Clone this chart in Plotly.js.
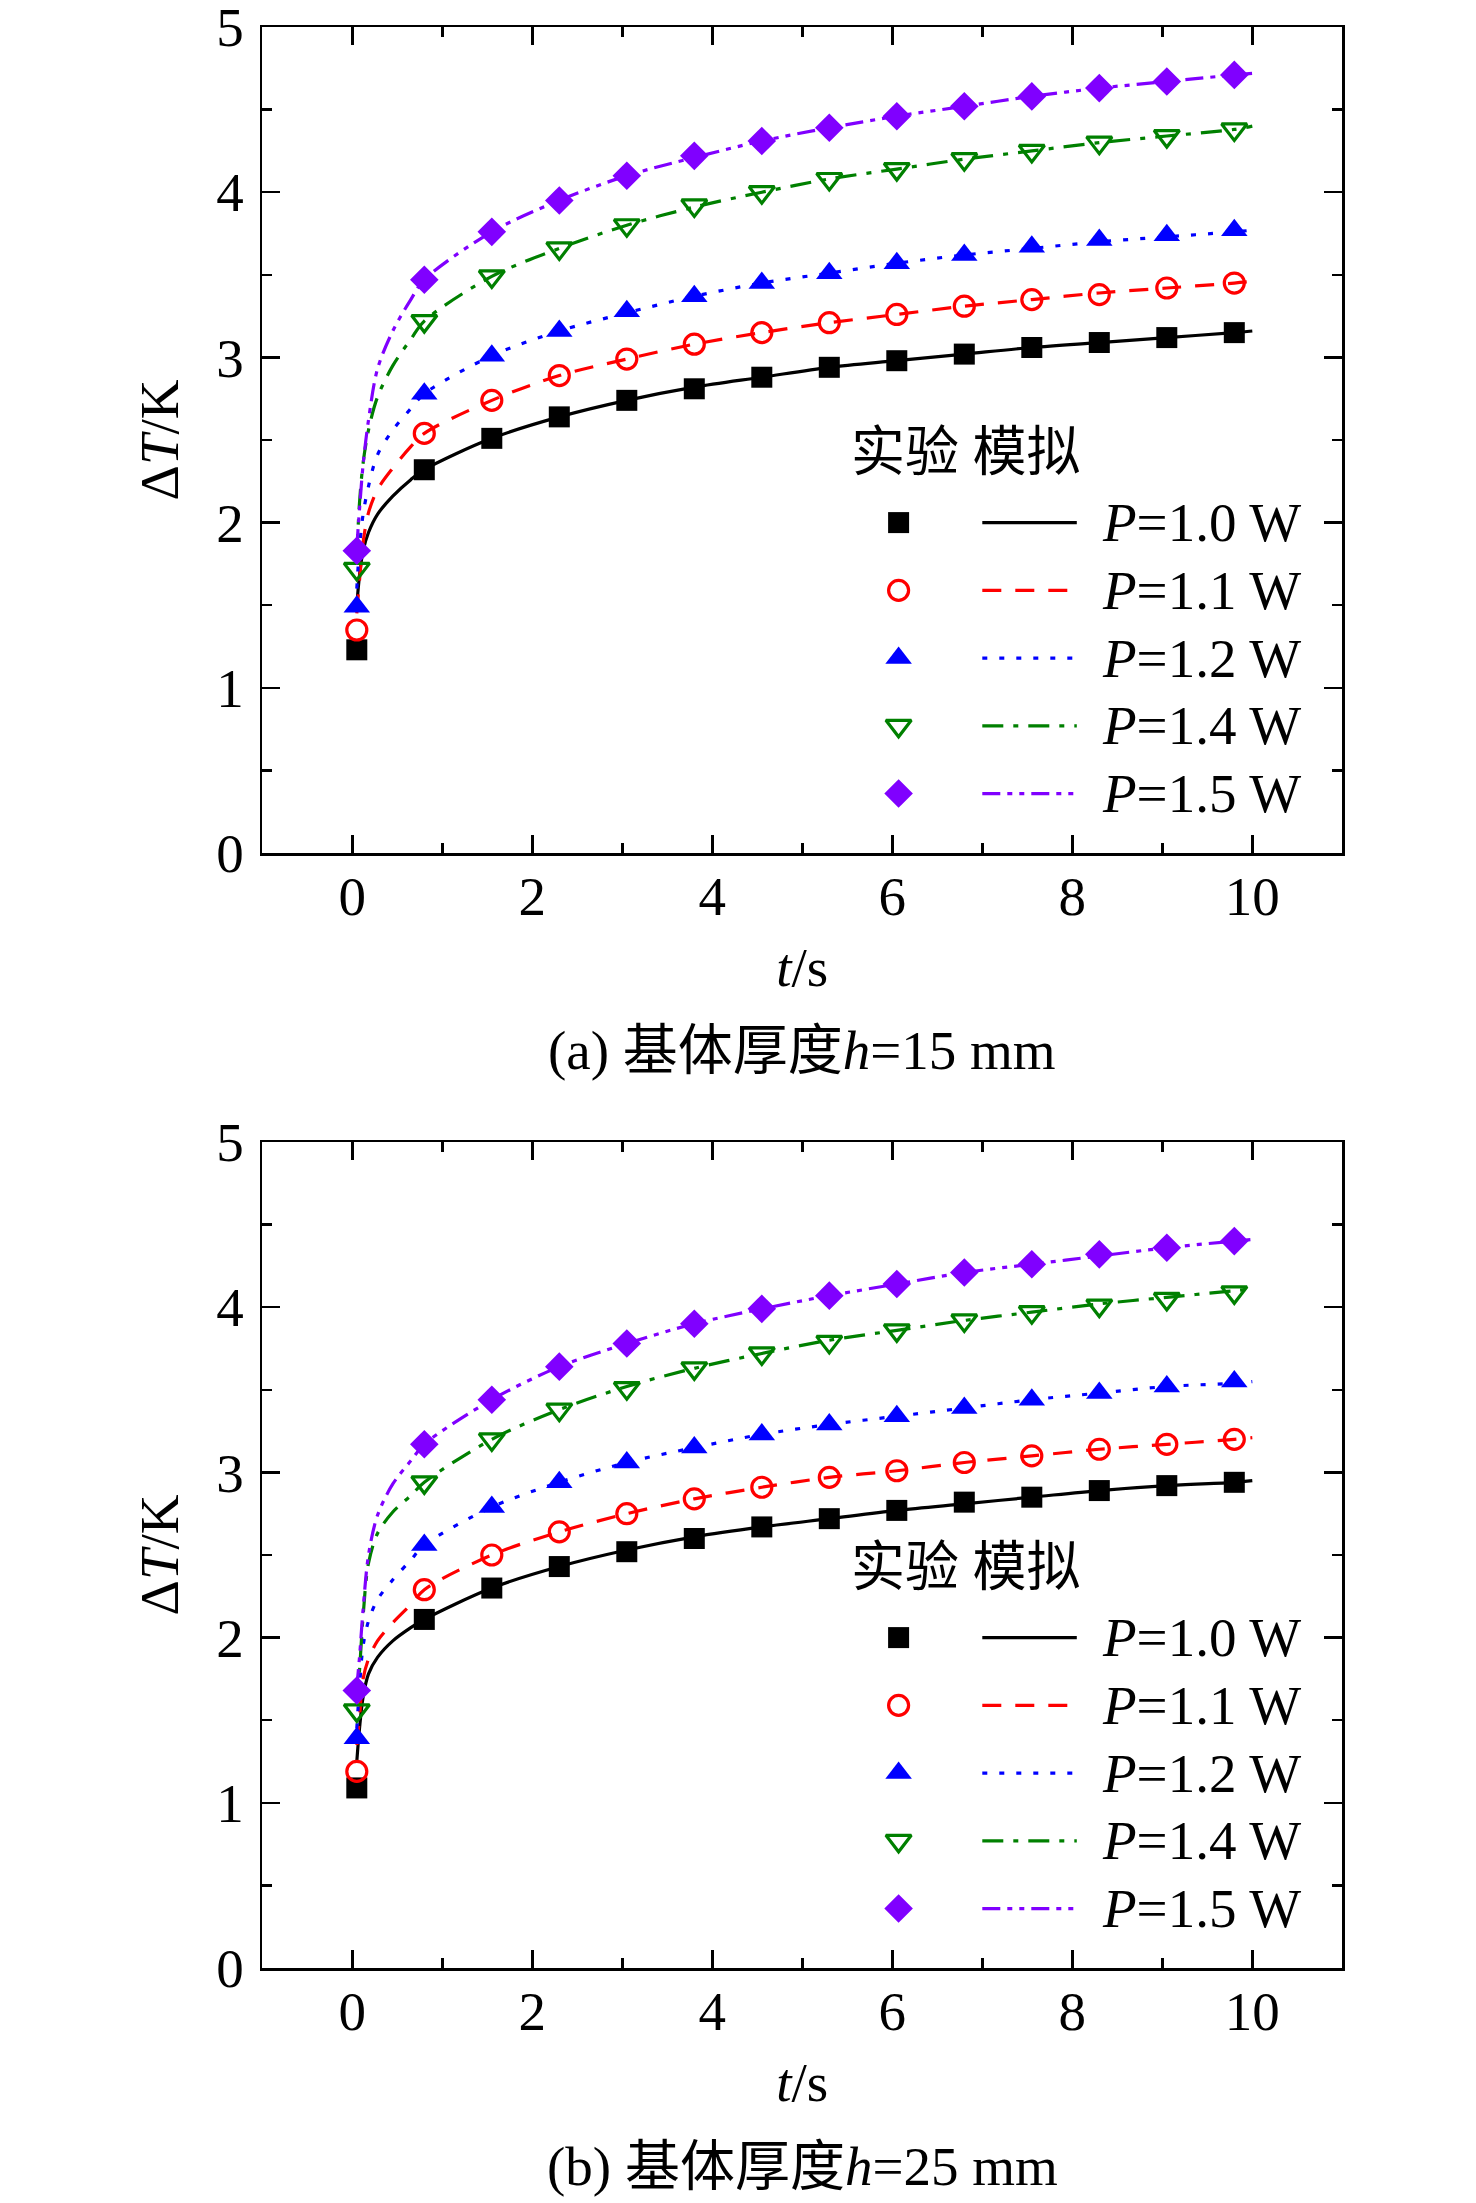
<!DOCTYPE html>
<html>
<head>
<meta charset="utf-8">
<script src="https://cdn.plot.ly/plotly-3.0.1.min.js"></script>
<style>
html,body{margin:0;padding:0;background:#fff;}
#chart{width:1476px;height:2203px;}
</style>
</head>
<body>
<div id="chart"></div>
<script>
// ---------- DATA ----------
const T_EXP = [0.05, 0.8, 1.55, 2.3, 3.05, 3.8, 4.55, 5.3, 6.05, 6.8, 7.55, 8.3, 9.05, 9.8];
const T_SIM = [0.05, 0.08, 0.12, 0.18, 0.28, 0.45, 0.65, 0.8, 1.55, 2.3, 3.05, 3.8, 4.55, 5.3, 6.05, 6.8, 7.55, 8.3, 9.05, 9.8, 10.0];

const SERIES_NAMES = ['P=1.0 W', 'P=1.1 W', 'P=1.2 W', 'P=1.4 W', 'P=1.5 W'];
const LEGEND_LABELS = ['<i>P</i>=1.0 W', '<i>P</i>=1.1 W', '<i>P</i>=1.2 W', '<i>P</i>=1.4 W', '<i>P</i>=1.5 W'];
const LEGEND_HEADER = '实验 模拟';
const CAPTIONS = ['(a) 基体厚度<i>h</i>=15 mm', '(b) 基体厚度<i>h</i>=25 mm'];
const X_TITLE = '<i>t</i>/s';
const Y_TITLE = 'Δ<i>T</i>/K';

// (a) h = 15 mm : experiment
const A_EXP_P10 = [1.23, 2.32, 2.51, 2.64, 2.74, 2.81, 2.88, 2.94, 2.98, 3.02, 3.06, 3.09, 3.12, 3.15];
const A_EXP_P11 = [1.35, 2.54, 2.74, 2.89, 2.99, 3.08, 3.15, 3.21, 3.26, 3.31, 3.35, 3.38, 3.42, 3.45];
const A_EXP_P12 = [1.49, 2.78, 3.01, 3.16, 3.28, 3.37, 3.45, 3.51, 3.57, 3.62, 3.67, 3.71, 3.74, 3.77];
const A_EXP_P14 = [1.72, 3.22, 3.49, 3.66, 3.80, 3.92, 4.00, 4.08, 4.14, 4.20, 4.25, 4.30, 4.34, 4.38];
const A_EXP_P15 = [1.83, 3.47, 3.76, 3.95, 4.10, 4.22, 4.31, 4.39, 4.46, 4.52, 4.58, 4.63, 4.67, 4.71];
// (a) simulation
const A_SIM_P10 = [1.50, 1.68, 1.83, 1.94, 2.05, 2.16, 2.26, 2.32, 2.51, 2.64, 2.74, 2.82, 2.88, 2.94, 2.98, 3.02, 3.06, 3.09, 3.12, 3.15, 3.16];
const A_SIM_P11 = [1.45, 1.65, 1.88, 2.06, 2.20, 2.33, 2.46, 2.54, 2.74, 2.89, 2.99, 3.08, 3.15, 3.21, 3.26, 3.31, 3.35, 3.39, 3.42, 3.45, 3.46];
const A_SIM_P12 = [1.60, 1.85, 2.05, 2.22, 2.41, 2.56, 2.69, 2.78, 3.01, 3.16, 3.27, 3.37, 3.45, 3.51, 3.57, 3.62, 3.66, 3.70, 3.73, 3.76, 3.77];
const A_SIM_P14 = [1.80, 2.12, 2.36, 2.56, 2.76, 2.95, 3.11, 3.22, 3.49, 3.66, 3.80, 3.91, 4.00, 4.08, 4.14, 4.20, 4.25, 4.30, 4.34, 4.38, 4.40];
const A_SIM_P15 = [1.85, 2.08, 2.35, 2.62, 2.93, 3.16, 3.35, 3.47, 3.76, 3.95, 4.10, 4.21, 4.31, 4.39, 4.46, 4.52, 4.58, 4.63, 4.67, 4.71, 4.72];

// (b) h = 25 mm : experiment
const B_EXP_P10 = [1.09, 2.11, 2.30, 2.43, 2.52, 2.60, 2.67, 2.72, 2.77, 2.82, 2.85, 2.89, 2.92, 2.94];
const B_EXP_P11 = [1.19, 2.29, 2.50, 2.64, 2.75, 2.84, 2.91, 2.97, 3.01, 3.06, 3.10, 3.14, 3.17, 3.20];
const B_EXP_P12 = [1.39, 2.56, 2.79, 2.94, 3.06, 3.15, 3.23, 3.29, 3.34, 3.39, 3.44, 3.48, 3.52, 3.55];
const B_EXP_P14 = [1.56, 2.94, 3.20, 3.38, 3.51, 3.63, 3.72, 3.79, 3.86, 3.92, 3.97, 4.01, 4.05, 4.09];
const B_EXP_P15 = [1.68, 3.17, 3.44, 3.64, 3.78, 3.90, 3.99, 4.07, 4.14, 4.21, 4.26, 4.32, 4.36, 4.40];
// (b) simulation
const B_SIM_P10 = [1.25, 1.45, 1.64, 1.78, 1.88, 1.98, 2.06, 2.11, 2.30, 2.43, 2.53, 2.61, 2.67, 2.72, 2.77, 2.81, 2.85, 2.89, 2.92, 2.94, 2.95];
const B_SIM_P11 = [1.35, 1.52, 1.75, 1.87, 1.98, 2.09, 2.20, 2.29, 2.50, 2.64, 2.75, 2.84, 2.91, 2.97, 3.01, 3.06, 3.10, 3.14, 3.17, 3.20, 3.21];
const B_SIM_P12 = [1.45, 1.70, 1.95, 2.10, 2.23, 2.35, 2.47, 2.56, 2.79, 2.94, 3.06, 3.15, 3.23, 3.29, 3.34, 3.39, 3.44, 3.48, 3.52, 3.54, 3.55];
const B_SIM_P14 = [1.60, 1.80, 2.13, 2.45, 2.63, 2.76, 2.86, 2.94, 3.20, 3.38, 3.52, 3.63, 3.72, 3.80, 3.86, 3.92, 3.97, 4.02, 4.06, 4.10, 4.11];
const B_SIM_P15 = [1.70, 1.88, 2.17, 2.50, 2.74, 2.93, 3.07, 3.17, 3.44, 3.64, 3.78, 3.90, 3.99, 4.07, 4.14, 4.21, 4.26, 4.31, 4.36, 4.40, 4.41];

const X_TICKS = [0, 2, 4, 6, 8, 10];
const Y_TICKS = [0, 1, 2, 3, 4, 5];

// ---------- STYLE ----------
const COLORS = ['#000000', '#ff0000', '#0000ff', '#008000', '#8000ff'];
const SYMBOLS = ['square', 'circle-open', 'triangle-up', 'triangle-down-open', 'diamond'];
const MSIZES = [21, 20, 23, 22, 22];
const DASHES = ['solid', '19px,14px', '5px,12px', '21px,10px,5px,10px', '18px,7px,5px,7px,5px,7px'];
const LW = 3.2;
const SERIF = "'Liberation Serif', 'Times New Roman', serif";
const MIXED = "'Liberation Serif', 'Noto Sans CJK SC', serif";
const FS = 55;

// legend layout (in data units of each panel)
const LEG = {headerX: 5.52, headerY: 2.42, markerX: 6.07, lineX0: 7.0, lineX1: 8.05, textX: 8.31,
             rowY: [2.0, 1.59, 1.18, 0.77, 0.36]};

const panels = [
  {xa: 'x', ya: 'y', exp: [A_EXP_P10, A_EXP_P11, A_EXP_P12, A_EXP_P14, A_EXP_P15],
   sim: [A_SIM_P10, A_SIM_P11, A_SIM_P12, A_SIM_P14, A_SIM_P15]},
  {xa: 'x2', ya: 'y2', exp: [B_EXP_P10, B_EXP_P11, B_EXP_P12, B_EXP_P14, B_EXP_P15],
   sim: [B_SIM_P10, B_SIM_P11, B_SIM_P12, B_SIM_P14, B_SIM_P15]}
];

function markerStyle(i) {
  const open = SYMBOLS[i].indexOf('open') >= 0;
  return {symbol: SYMBOLS[i], size: MSIZES[i], color: COLORS[i],
          line: {color: COLORS[i], width: open ? 3.2 : 0}};
}

const traces = [];
const annotations = [];
panels.forEach((p, pi) => {
  // simulation curves
  p.sim.forEach((ys, i) => {
    traces.push({x: T_SIM, y: ys, xaxis: p.xa, yaxis: p.ya, type: 'scatter', mode: 'lines',
      name: SERIES_NAMES[i] + ' 模拟', showlegend: false, hoverinfo: 'skip',
      line: {color: COLORS[i], width: LW, dash: DASHES[i], shape: 'spline', smoothing: 0.9}});
  });
  // experiment markers
  p.exp.forEach((ys, i) => {
    traces.push({x: T_EXP, y: ys, xaxis: p.xa, yaxis: p.ya, type: 'scatter', mode: 'markers',
      name: SERIES_NAMES[i] + ' 实验', showlegend: false, marker: markerStyle(i), cliponaxis: false});
  });
  // custom legend glyphs
  SERIES_NAMES.forEach((nm, i) => {
    traces.push({x: [LEG.markerX], y: [LEG.rowY[i]], xaxis: p.xa, yaxis: p.ya, type: 'scatter',
      mode: 'markers', showlegend: false, hoverinfo: 'skip', marker: markerStyle(i)});
    traces.push({x: [LEG.lineX0, LEG.lineX1], y: [LEG.rowY[i], LEG.rowY[i]], xaxis: p.xa, yaxis: p.ya,
      type: 'scatter', mode: 'lines', showlegend: false, hoverinfo: 'skip',
      line: {color: COLORS[i], width: LW, dash: DASHES[i]}});
    annotations.push({xref: p.xa, yref: p.ya, x: LEG.textX, y: LEG.rowY[i], text: LEGEND_LABELS[i],
      showarrow: false, xanchor: 'left', yanchor: 'middle', font: {family: SERIF, size: FS, color: '#000'}});
  });
  annotations.push({xref: p.xa, yref: p.ya, x: LEG.headerX, y: LEG.headerY, text: LEGEND_HEADER,
    showarrow: false, xanchor: 'left', yanchor: 'middle', font: {family: MIXED, size: 54, color: '#000'}});
});

// captions
annotations.push({xref: 'paper', yref: 'paper', x: 0.5436, y: 1 - 1050 / 2203, text: CAPTIONS[0],
  showarrow: false, xanchor: 'center', yanchor: 'middle', font: {family: MIXED, size: FS, color: '#000'}});
annotations.push({xref: 'paper', yref: 'paper', x: 0.5436, y: 1 - 2166 / 2203, text: CAPTIONS[1],
  showarrow: false, xanchor: 'center', yanchor: 'middle', font: {family: MIXED, size: FS, color: '#000'}});

function xAxis(anchor) {
  return {anchor: anchor, domain: [262.3 / 1476, 1342.3 / 1476], range: [-1, 11],
    tickvals: X_TICKS, ticktext: X_TICKS.map(String), ticks: 'inside', ticklen: 18, tickwidth: 2.5,
    tickcolor: '#000', showline: true, linewidth: 2.5, linecolor: '#000', mirror: 'allticks',
    showgrid: false, zeroline: false, ticklabelstandoff: -7, ticklabeloverflow: 'allow',
    minor: {dtick: 1, tick0: 0, ticks: 'inside', ticklen: 10, tickwidth: 2.5, tickcolor: '#000', showgrid: false},
    tickfont: {family: SERIF, size: FS, color: '#000'},
    title: {text: X_TITLE, font: {family: SERIF, size: FS, color: '#000'}, standoff: 22}};
}
function yAxis(anchor, domain) {
  return {anchor: anchor, domain: domain, range: [0, 5],
    tickvals: Y_TICKS, ticktext: Y_TICKS.map(String), ticks: 'inside', ticklen: 18, tickwidth: 2.5,
    tickcolor: '#000', showline: true, linewidth: 2.5, linecolor: '#000', mirror: 'allticks',
    showgrid: false, zeroline: false, ticklabelstandoff: 5, ticklabeloverflow: 'allow',
    minor: {dtick: 0.5, tick0: 0, ticks: 'inside', ticklen: 10, tickwidth: 2.5, tickcolor: '#000', showgrid: false},
    tickfont: {family: SERIF, size: FS, color: '#000'},
    title: {text: Y_TITLE, font: {family: SERIF, size: FS, color: '#000'}, standoff: 20}};
}

const layout = {
  width: 1476, height: 2203,
  margin: {l: 0, r: 0, t: 0, b: 0},
  paper_bgcolor: '#fff', plot_bgcolor: '#fff',
  showlegend: false,
  xaxis: xAxis('y'),
  yaxis: yAxis('x', [1 - 853 / 2203, 1 - 27 / 2203]),
  xaxis2: xAxis('y2'),
  yaxis2: yAxis('x2', [1 - 1968 / 2203, 1 - 1142 / 2203]),
  annotations: annotations
};

Plotly.newPlot('chart', traces, layout, {displayModeBar: false, staticPlot: true});
</script>
</body>
</html>
